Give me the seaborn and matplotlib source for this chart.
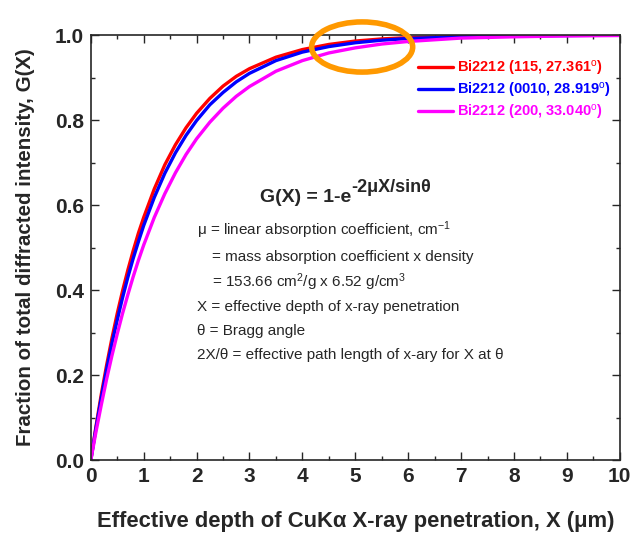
import numpy as np
import pandas as pd
import matplotlib
matplotlib.use('Agg')
import matplotlib.pyplot as plt
from matplotlib.patches import Ellipse
import seaborn as sns

# depth X (um) and G(X) values
depth = [0, 0.1, 0.2, 0.3, 0.4, 0.5, 0.6, 0.7, 0.8, 0.9, 1.0, 1.2, 1.4, 1.6, 1.8, 2.0,
         2.25, 2.5, 2.75, 3.0, 3.5, 4.0, 4.5, 5.0, 5.5, 6.0, 7.0, 8.0, 9.0, 10.0]
g_115 = [0, 0.081, 0.156, 0.224, 0.287, 0.345, 0.398, 0.447, 0.492, 0.534, 0.571, 0.638,
         0.695, 0.742, 0.782, 0.816, 0.851, 0.880, 0.903, 0.921, 0.948, 0.966, 0.978,
         0.986, 0.991, 0.994, 0.997, 0.999, 1.000, 1.000]
g_0010 = [0, 0.077, 0.148, 0.214, 0.275, 0.330, 0.382, 0.430, 0.474, 0.514, 0.552, 0.618,
          0.675, 0.723, 0.764, 0.799, 0.836, 0.865, 0.890, 0.910, 0.940, 0.960, 0.973,
          0.982, 0.988, 0.992, 0.996, 0.998, 0.999, 1.000]
g_200 = [0, 0.068, 0.131, 0.191, 0.246, 0.297, 0.345, 0.389, 0.431, 0.470, 0.506, 0.571,
         0.627, 0.676, 0.719, 0.756, 0.795, 0.828, 0.856, 0.879, 0.915, 0.940, 0.958,
         0.970, 0.979, 0.985, 0.993, 0.996, 0.998, 0.999]

labels = ['Bi2212 (115, 27.361$^{\\rm o}$)',
          'Bi2212 (0010, 28.919$^{\\rm o}$)',
          'Bi2212 (200, 33.040$^{\\rm o}$)']
colors = ['#ff0000', '#0000ff', '#ff00ff']

df = pd.concat([
    pd.DataFrame({'X': depth, 'G': g, 'series': lab})
    for g, lab in zip([g_115, g_0010, g_200], labels)
])

sns.set_style('ticks')
plt.rcParams['font.family'] = ['Liberation Sans', 'DejaVu Sans']
plt.rcParams['mathtext.fontset'] = 'custom'
plt.rcParams['mathtext.rm'] = 'Liberation Sans'
plt.rcParams['mathtext.it'] = 'Liberation Sans'
plt.rcParams['mathtext.bf'] = 'Liberation Sans:bold'

fig = plt.figure(figsize=(6.35, 5.4), dpi=100)
ax = fig.add_axes([0.143, 0.148, 0.833, 0.787])

sns.lineplot(data=df, x='X', y='G', hue='series', palette=colors,
             linewidth=2.4, ax=ax)

ax.set_xlim(0, 10)
ax.set_ylim(0, 1.0)
ax.set_xticks(range(0, 11))
ax.set_yticks([0, 0.2, 0.4, 0.6, 0.8, 1.0])
ax.set_yticklabels(['0.0', '0.2', '0.4', '0.6', '0.8', '1.0'])
ax.set_xticks(np.arange(0.5, 10, 1), minor=True)
ax.set_yticks(np.arange(0.1, 1.0, 0.2), minor=True)
ax.tick_params(which='both', direction='in', top=True, right=True)
ax.tick_params(which='major', length=6, width=1, pad=5)
ax.tick_params(which='minor', length=3, width=1)
for t in ax.get_xticklabels() + ax.get_yticklabels():
    t.set_fontsize(15)
    t.set_fontweight('bold')
for s in ax.spines.values():
    s.set_linewidth(1.2)

ax.set_xlabel('Effective depth of CuKα X-ray penetration, X (μm)',
              fontsize=15.8, fontweight='bold', labelpad=18)
ax.set_ylabel('Fraction of total diffracted intensity, G(X)',
              fontsize=14.8, fontweight='bold', labelpad=14)

leg = ax.legend(loc='upper right', bbox_to_anchor=(1.0, 0.965), frameon=False,
                fontsize=10.5, handlelength=2.4, labelspacing=0.2, borderaxespad=0.2,
                handletextpad=0.3)
for txt, c in zip(leg.get_texts(), colors):
    txt.set_color(c)
    txt.set_fontweight('bold')

base = ax.text(4.93, 0.619, 'G(X) = 1-e', ha='right', va='center',
               fontsize=14, fontweight='bold')
ax.annotate('-2μX/sinθ', xy=(1, 0.55), xycoords=base, ha='left', va='bottom',
            fontsize=13, fontweight='bold')

notes = [
    (2.0, 0.541, 'μ = linear absorption coefficient, cm$^{-1}$'),
    (2.29, 0.478, '= mass absorption coefficient x density'),
    (2.29, 0.419, '= 153.66 cm$^2$/g x 6.52 g/cm$^3$'),
    (2.0, 0.36, 'X = effective depth of x-ray penetration'),
    (2.0, 0.304, 'θ = Bragg angle'),
    (2.0, 0.247, '2X/θ = effective path length of x-ary for X at θ'),
]
for x, y, s in notes:
    ax.text(x, y, s, ha='left', va='center', fontsize=11)

ax.add_patch(Ellipse((5.13, 0.972), 1.91, 0.118, fill=False,
                     edgecolor='#ff9900', linewidth=4, clip_on=False, zorder=5))

fig.savefig('out.png', dpi=100)
